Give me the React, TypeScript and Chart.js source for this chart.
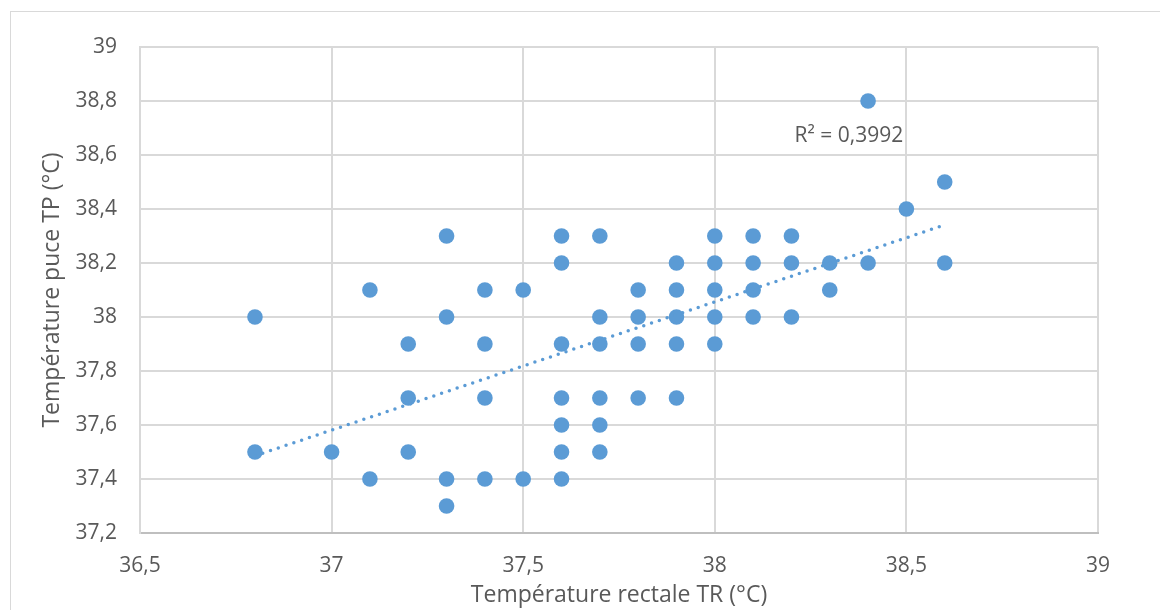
import React, { useEffect, useRef } from "react";
import { Chart, registerables } from "chart.js";

Chart.register(...registerables);

// Température rectale TR (°C) — x values
const tempRectale: number[] = [
  36.8, 36.8, 37.0, 37.1, 37.1, 37.2, 37.2, 37.2, 37.3, 37.3, 37.3, 37.3,
  37.4, 37.4, 37.4, 37.4, 37.5, 37.5, 37.6, 37.6, 37.6, 37.6, 37.6, 37.6,
  37.6, 37.7, 37.7, 37.7, 37.7, 37.7, 37.7, 37.8, 37.8, 37.8, 37.8, 37.9,
  37.9, 37.9, 37.9, 37.9, 38.0, 38.0, 38.0, 38.0, 38.0, 38.1, 38.1, 38.1,
  38.1, 38.2, 38.2, 38.2, 38.3, 38.3, 38.4, 38.4, 38.5, 38.6, 38.6,
];
// Température puce TP (°C) — y values
const tempPuce: number[] = [
  38.0, 37.5, 37.5, 38.1, 37.4, 37.9, 37.7, 37.5, 38.3, 38.0, 37.4, 37.3,
  38.1, 37.9, 37.7, 37.4, 38.1, 37.4, 38.3, 38.2, 37.9, 37.7, 37.6, 37.5,
  37.4, 38.3, 38.0, 37.9, 37.7, 37.6, 37.5, 38.1, 38.0, 37.9, 37.7, 38.2,
  38.1, 38.0, 37.9, 37.7, 38.3, 38.2, 38.1, 38.0, 37.9, 38.3, 38.2, 38.1,
  38.0, 38.3, 38.2, 38.0, 38.2, 38.1, 38.8, 38.2, 38.4, 38.5, 38.2,
];

// Linear trendline endpoints
const trendX: number[] = [36.8, 38.6];
const trendY: number[] = [37.486, 38.341];
const r2Label = "R² = 0,3992";
const r2Anchor: number[] = [38.35, 38.672];

const xTitle = "Température rectale TR (°C)";
const yTitle = "Température puce TP (°C)";

const FONT = "'Open Sans', 'Noto Sans', sans-serif";
const TEXT = "#595959";
const BLUE = "#5B9BD5";

const fmt = (v: number | string) =>
  String(Number(Number(v).toFixed(2))).replace(".", ",");

export default function App() {
  const ref = useRef<HTMLCanvasElement | null>(null);

  useEffect(() => {
    const canvas = ref.current;
    if (!canvas) return;

    const r2Plugin = {
      id: "r2label",
      afterDatasetsDraw(chart: any) {
        const { ctx, scales } = chart;
        const px = scales.x.getPixelForValue(r2Anchor[0]);
        const py = scales.y.getPixelForValue(r2Anchor[1]);
        ctx.save();
        ctx.font = `21px ${FONT}`;
        ctx.fillStyle = TEXT;
        ctx.textAlign = "center";
        ctx.textBaseline = "middle";
        ctx.fillText(r2Label, px, py);
        ctx.restore();
      },
    };

    const chart = new Chart(canvas, {
      type: "scatter",
      data: {
        datasets: [
          {
            label: "Tendance",
            data: trendX.map((x, i) => ({ x, y: trendY[i] })),
            showLine: true,
            pointRadius: 0,
            borderColor: BLUE,
            borderWidth: 3.5,
            borderDash: [0, 8.2],
            borderCapStyle: "round",
            order: 0,
          } as any,
          {
            label: "TP",
            data: tempRectale.map((x, i) => ({ x, y: tempPuce[i] })),
            pointRadius: 7.8,
            pointHoverRadius: 7.8,
            backgroundColor: BLUE,
            borderColor: BLUE,
            borderWidth: 0,
            order: 1,
          },
        ],
      },
      options: {
        responsive: false,
        animation: false,
        devicePixelRatio: 1,
        layout: { padding: { top: 47, right: 62, left: 0, bottom: 0 } },
        plugins: {
          legend: { display: false },
          tooltip: { enabled: false },
        },
        scales: {
          x: {
            type: "linear",
            min: 36.5,
            max: 39,
            afterFit: (s: any) => {
              s.height = 77;
            },
            ticks: {
              stepSize: 0.5,
              padding: 20,
              color: TEXT,
              font: { family: FONT, size: 21 },
              callback: (v: any) => fmt(v),
            },
            grid: { color: "#d9d9d9", lineWidth: 2, drawTicks: false },
            border: { color: "#bfbfbf", width: 2 },
            title: {
              display: true,
              text: xTitle,
              color: TEXT,
              font: { family: FONT, size: 23 },
              padding: { top: 0, bottom: 1 },
            },
          },
          y: {
            type: "linear",
            min: 37.2,
            max: 39,
            afterFit: (s: any) => {
              s.width = 140;
            },
            ticks: {
              stepSize: 0.2,
              padding: 23,
              color: TEXT,
              font: { family: FONT, size: 21 },
              callback: (v: any) => fmt(v),
            },
            grid: { color: "#d9d9d9", lineWidth: 2, drawTicks: false },
            border: { color: "#d9d9d9", width: 2 },
            title: {
              display: true,
              text: yTitle,
              color: TEXT,
              font: { family: FONT, size: 23 },
              padding: { top: 39, bottom: 0 },
            },
          },
        },
      },
      plugins: [r2Plugin],
    } as any);

    return () => chart.destroy();
  }, []);

  return (
    <div
      style={{
        position: "fixed",
        left: 0,
        top: 0,
        width: 1160,
        height: 610,
        background: "#fff",
        overflow: "hidden",
      }}
    >
      <div
        style={{
          position: "absolute",
          left: 10,
          top: 11,
          width: 1200,
          height: 700,
          border: "1px solid #d9d9d9",
          boxSizing: "border-box",
        }}
      />
      <canvas
        ref={ref}
        width={1160}
        height={610}
        style={{ position: "absolute", left: 0, top: 0, width: 1160, height: 610 }}
      />
    </div>
  );
}
